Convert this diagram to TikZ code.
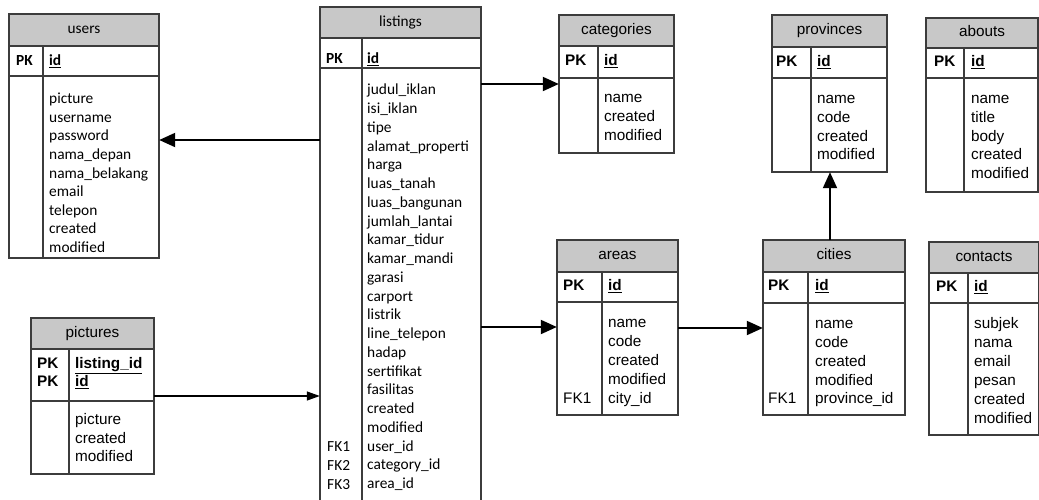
\documentclass[tikz,border=0pt]{standalone}
\usepackage{fontspec}
\setmainfont{Liberation Sans}
\newfontfamily\calib{Carlito}
\usetikzlibrary{arrows.meta,fit}

\definecolor{hdrgray}{RGB}{200,200,200}
\definecolor{tline}{RGB}{60,60,60}

\tikzset{
  fld/.style={anchor=west, inner sep=0pt, text height=11pt, text depth=3.5pt,
    font=\fontsize{15.3}{18}\selectfont},
  cfld/.style={fld, font=\calib\fontsize{15.4}{18}\selectfont},
  keyfld/.style={fld, font=\fontsize{15.3}{18}\selectfont\bfseries},
  ckeyfld/.style={fld, font=\calib\fontsize{15.4}{18}\selectfont\bfseries},
  ttl/.style={inner sep=0pt, text height=11pt, text depth=3.5pt,
    font=\fontsize{15.3}{18}\selectfont},
  fk/.style={line width=2pt, -{Triangle[length=16pt,width=14pt]}},
  fksmall/.style={line width=1.3pt, -{Triangle[length=13pt,width=9pt]}}
}

% name, left, top, right, header bottom, key bottom, bottom, divider, title
\newcommand{\erdtable}[9]{%
  \fill[hdrgray] (#2,#3) rectangle (#4,#5);
  \draw[tline, line width=1.3pt] (#2,#3) rectangle (#4,#7)
    (#2,#5) -- (#4,#5) (#2,#6) -- (#4,#6) (#8,#5) -- (#8,#7);
  \node[inner sep=0pt, fit={(#2,#3) (#4,#7)}] (#1) {};
  \node[ttl] (#1-title) at ({(#2+#4)/2},{(#3+#5)/2}) {#9};
}

% name, x, first y, step, style, list
\newcommand{\fieldlist}[6]{%
  \foreach \f [count=\i from 0] in {#6}
    \node[#5] (#1-f\i) at (#2,{#3+#4*\i}) {\f};
}

\begin{document}
\begin{tikzpicture}[x=1pt,y=-1pt]
  \clip (0,0) rectangle (1039,499);
  \fill[white] (0,0) rectangle (1039,499);

  \erdtable{users}{9}{14}{159}{46}{76}{258}{43}{\calib users}
  \node[ckeyfld] (users-pk) at (16,62) {PK};
  \node[ckeyfld] (users-id) at (49,62) {\underline{id}};
  \fieldlist{users}{49}{100}{18.6}{cfld}{picture,username,password,nama\_depan,
    nama\_belakang,email,telepon,created,modified}

  \erdtable{listings}{320}{7}{481}{38}{68}{503}{362}{\calib listings}
  \node[ckeyfld] (listings-pk) at (326,60) {PK};
  \node[ckeyfld] (listings-id) at (367,60) {\underline{id}};
  \fieldlist{listings}{367}{91}{18.76}{cfld}{judul\_iklan,isi\_iklan,tipe,
    alamat\_properti,harga,luas\_tanah,luas\_bangunan,jumlah\_lantai,kamar\_tidur,
    kamar\_mandi,garasi,carport,listrik,line\_telepon,hadap,sertifikat,fasilitas,
    created,modified,user\_id,category\_id,area\_id}
  \fieldlist{listings-fk}{327}{448}{18.76}{cfld}{FK1,FK2,FK3}

  \erdtable{categories}{559}{15}{674}{46}{78}{153}{598}{categories}
  \node[keyfld] (categories-pk) at (565,62) {PK};
  \node[keyfld] (categories-id) at (604,62) {\underline{id}};
  \fieldlist{categories}{604}{99}{18.7}{fld}{name,created,modified}

  \erdtable{provinces}{772}{15}{887}{47}{78}{172}{811}{provinces}
  \node[keyfld] (provinces-pk) at (776,63) {PK};
  \node[keyfld] (provinces-id) at (817,63) {\underline{id}};
  \fieldlist{provinces}{817}{100}{18.7}{fld}{name,code,created,modified}

  \erdtable{abouts}{926}{18}{1038}{48}{78}{192}{964}{abouts}
  \node[keyfld] (abouts-pk) at (934,63) {PK};
  \node[keyfld] (abouts-id) at (971,63) {\underline{id}};
  \fieldlist{abouts}{971}{100}{18.7}{fld}{name,title,body,created,modified}

  \erdtable{areas}{557}{240}{678}{272}{302}{415}{602}{areas}
  \node[keyfld] (areas-pk) at (563,287) {PK};
  \node[keyfld] (areas-id) at (608,287) {\underline{id}};
  \fieldlist{areas}{608}{324}{19}{fld}{name,code,created,modified,city\_id}
  \node[fld] (areas-fk) at (563,400) {FK1};

  \erdtable{cities}{763}{240}{905}{272}{303}{415}{808}{cities}
  \node[keyfld] (cities-pk) at (768,287) {PK};
  \node[keyfld] (cities-id) at (815,287) {\underline{id}};
  \fieldlist{cities}{815}{325}{18.8}{fld}{name,code,created,modified,province\_id}
  \node[fld] (cities-fk) at (768,400) {FK1};

  \erdtable{contacts}{929}{242}{1039}{273}{303}{435}{968}{contacts}
  \node[keyfld] (contacts-pk) at (936,288) {PK};
  \node[keyfld] (contacts-id) at (974,288) {\underline{id}};
  \fieldlist{contacts}{974}{325}{19}{fld}{subjek,nama,email,pesan,created,modified}

  \erdtable{pictures}{31}{318}{154}{349}{401}{474}{69}{pictures}
  \fieldlist{pictures-pk}{37}{365}{18}{keyfld}{PK,PK}
  \node[keyfld] (pictures-lid) at (75,365) {\underline{listing\_id}};
  \node[keyfld] (pictures-id) at (75,383) {\underline{id}};
  \fieldlist{pictures}{75}{421}{18.3}{fld}{picture,created,modified}

  \coordinate (uy) at (0,140);
  \coordinate (cy) at (0,84);
  \coordinate (ay) at (0,327);
  \coordinate (ty) at (0,328);
  \coordinate (py) at (0,396);
  \coordinate (px) at (830,0);
  \draw[fk] (listings.west |- uy) -- (users.east |- uy);
  \draw[fk] (listings.east |- cy) -- (categories.west |- cy);
  \draw[fk] (listings.east |- ay) -- (areas.west |- ay);
  \draw[fk] (areas.east |- ty) -- (cities.west |- ty);
  \draw[fk] (cities.north -| px) -- (provinces.south -| px);
  \draw[fksmall] (pictures.east |- py) -- (listings.west |- py);
\end{tikzpicture}
\end{document}
